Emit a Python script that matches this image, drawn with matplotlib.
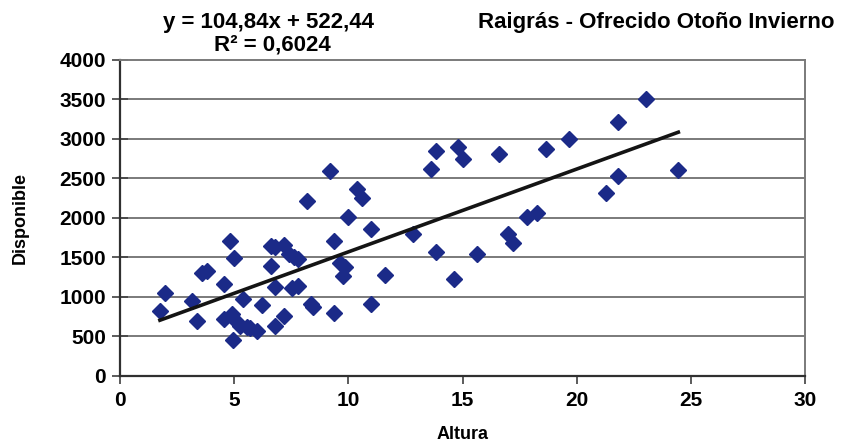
import matplotlib
matplotlib.use('Agg')
from matplotlib import pyplot as plt
import numpy as np

plt.rcParams['font.family'] = ['Liberation Sans', 'DejaVu Sans']
plt.rcParams['font.weight'] = 'bold'

# Altura (cm) vs forraje disponible (kg MS/ha)
altura = [1.75, 1.97, 3.14, 3.36, 3.6, 3.82, 4.57, 4.8, 4.98, 4.55, 4.9,
          5.1, 5.26, 4.96, 5.4, 5.55, 5.7, 6.0, 6.2, 6.6, 6.6, 6.78, 6.78,
          6.78, 7.2, 7.2, 7.42, 7.6, 7.8, 7.55, 7.8, 8.18, 8.38, 8.47, 9.2,
          9.38, 9.39, 9.64, 9.86, 9.78, 10.0, 10.39, 10.58, 10.98, 11.0,
          11.6, 12.82, 13.6, 13.84, 13.83, 14.63, 14.8, 15.0, 15.62, 16.6,
          17.01, 17.23, 17.81, 18.25, 18.65, 19.65, 21.27, 21.83, 21.83,
          23.05, 24.45]
disponible = [820, 1045, 950, 700, 1305, 1335, 1170, 1710, 1490, 720, 780,
              690, 635, 450, 980, 625, 605, 575, 900, 1390, 1640, 1635, 1125,
              630, 1660, 765, 1550, 1500, 1480, 1110, 1135, 2220, 905, 875,
              2595, 800, 1712, 1426, 1385, 1260, 2008, 2363, 2256, 1865, 910,
              1278, 1797, 2615, 2850, 1570, 1228, 2900, 2750, 1544, 2815,
              1797, 1688, 2008, 2067, 2870, 2995, 2312, 2535, 3220, 3510,
              2608]

# recta de regresion
pendiente = 104.84
ordenada = 522.44
r2 = 0.6024


def figura(x, y, fig_name='out.png'):
    fig = plt.figure(figsize=(8.43, 4.41), dpi=100)
    ax = fig.add_axes([0.1423, 0.1474, 0.8127, 0.7166])

    for v in range(500, 4000, 500):
        ax.axhline(v, color='#7a7a7a', lw=1.4, zorder=1)

    ax.plot(x, y, 'D', color='#1b2a88', markersize=8.5, zorder=3)

    xr = np.array([min(x), max(x)])
    ax.plot(xr, pendiente * xr + ordenada, color='#141414', lw=2.6, zorder=4)

    ax.set_xlim(0, 30)
    ax.set_ylim(0, 4000)
    ax.set_xticks(range(0, 31, 5))
    ax.set_yticks(range(0, 4001, 500))
    ax.tick_params(axis='both', labelsize=15, width=1.2, color='#404040')
    ax.tick_params(axis='x', length=6, pad=5)
    ax.tick_params(axis='y', direction='inout', length=12, pad=4)
    for lab in ax.get_xticklabels() + ax.get_yticklabels():
        lab.set_fontweight('bold')

    for s in ['top', 'right']:
        ax.spines[s].set_color('#7a7a7a')
        ax.spines[s].set_linewidth(1.4)
    for s in ['left', 'bottom']:
        ax.spines[s].set_color('#303030')
        ax.spines[s].set_linewidth(1.6)

    ax.set_xlabel('Altura', fontsize=13, fontweight='bold')
    ax.set_ylabel('Disponible', fontsize=13, fontweight='bold')
    ax.xaxis.set_label_coords(0.5, -0.157)
    ax.yaxis.set_label_coords(-0.133, 0.5)

    eq = 'y = {:.2f}x + {:.2f}'.format(pendiente, ordenada).replace('.', ',')
    fig.text(0.3185, 0.950, eq, ha='center', va='center', fontsize=16,
             fontweight='bold')
    fig.text(0.3227, 0.898, 'R² = {:.4f}'.format(r2).replace('.', ','),
             ha='center', va='center', fontsize=16, fontweight='bold')
    fig.text(0.779, 0.948, 'Raigrás - Ofrecido Otoño Invierno', ha='center',
             va='center', fontsize=16, fontweight='bold')

    fig.savefig(fig_name, dpi=100)


if __name__ == '__main__':
    figura(altura, disponible)
